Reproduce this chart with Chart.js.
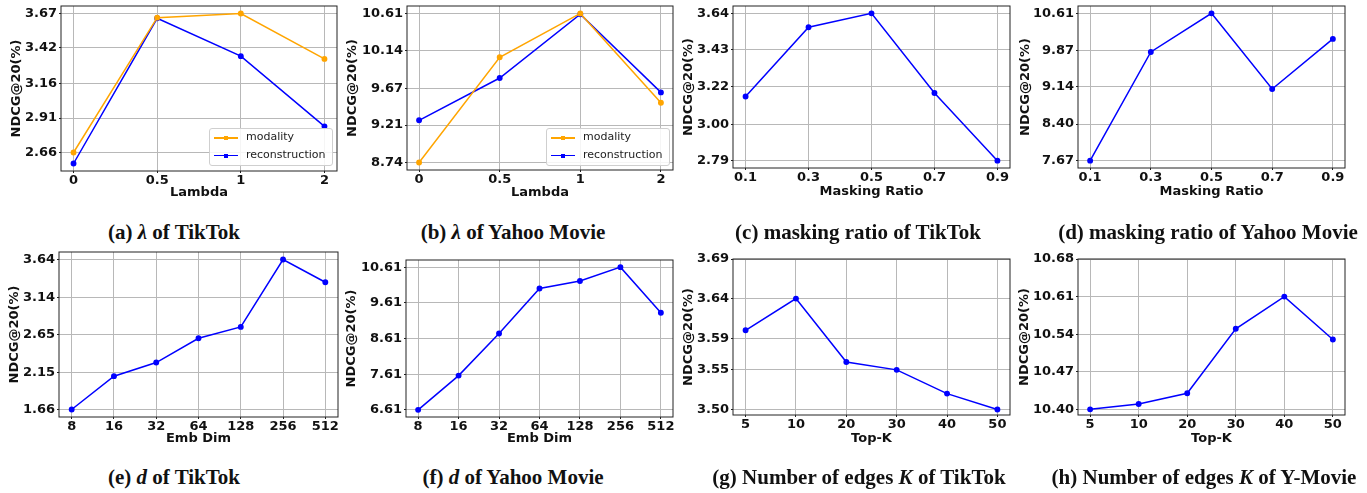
<!DOCTYPE html>
<html>
<head>
<meta charset="utf-8">
<script src="https://cdn.jsdelivr.net/npm/chart.js@4.4.0/dist/chart.umd.min.js"></script>
<style>
  html, body { margin: 0; padding: 0; background: #fff; }
  body { width: 1367px; height: 493px; position: relative; overflow: hidden; }
  .panel { position: absolute; }
  .cap {
    position: absolute; white-space: nowrap; transform: translate(-50%, -50%);
    font-family: 'Liberation Serif', serif; font-weight: bold; font-size: 21px; color: #111;
  }
  .legend {
    position: absolute; background: rgba(255,255,255,0.85); border: 1px solid #cfcfcf; border-radius: 3px;
    font-family: 'DejaVu Sans', sans-serif; font-size: 11px; color: #222;
  }
  .legend .row { position: absolute; left: 0; height: 14px; width: 100%; }
  .legend .ln { position: absolute; left: 4px; width: 24px; top: 6px; height: 1.5px; }
  .legend .mk { position: absolute; left: 14px; top: 5px; width: 4px; height: 4px; }
  .legend .tx { position: absolute; left: 36px; top: -1px; line-height: 14px; }
</style>
</head>
<body>
<script>
/* ---- categories (x axis) ---- */
const lambdaCats = ['0', '0.5', '1', '2'];
const maskCats   = ['0.1', '0.3', '0.5', '0.7', '0.9'];
const dimCats    = ['8', '16', '32', '64', '128', '256', '512'];
const topkCats   = ['5', '10', '20', '30', '40', '50'];

const seriesNames = ['modality', 'reconstruction'];

/* ---- NDCG@20 (%) values ---- */
const tiktokLambdaModality = [2.66, 3.64, 3.67, 3.34];
const tiktokLambdaRecon    = [2.58, 3.635, 3.36, 2.85];
const yahooLambdaModality  = [8.74, 10.06, 10.61, 9.49];
const yahooLambdaRecon     = [9.27, 9.80, 10.60, 9.62];
const tiktokMask = [3.16, 3.56, 3.64, 3.18, 2.79];
const yahooMask  = [7.67, 9.84, 10.61, 9.10, 10.10];
const tiktokDim  = [1.66, 2.10, 2.28, 2.60, 2.75, 3.64, 3.34];
const yahooDim   = [6.61, 7.57, 8.75, 10.01, 10.22, 10.61, 9.33];
const tiktokTopK = [3.60, 3.64, 3.56, 3.55, 3.52, 3.50];
const yahooTopK  = [10.40, 10.41, 10.43, 10.55, 10.61, 10.53];

/* ---- y tick labels ---- */
const tiktokLambdaTicks = [2.66, 2.91, 3.16, 3.42, 3.67];
const yahooLambdaTicks  = [8.74, 9.21, 9.67, 10.14, 10.61];
const tiktokMaskTicks   = [2.79, 3.00, 3.22, 3.43, 3.64];
const yahooMaskTicks    = [7.67, 8.40, 9.14, 9.87, 10.61];
const tiktokDimTicks    = [1.66, 2.15, 2.65, 3.14, 3.64];
const yahooDimTicks     = [6.61, 7.61, 8.61, 9.61, 10.61];
const tiktokTopKTicks   = [3.50, 3.55, 3.59, 3.64, 3.69];
const yahooTopKTicks    = [10.40, 10.47, 10.54, 10.61, 10.68];

const ORANGE = '#FFA500';
const BLUE = '#0000FF';
const GRID = '#b8b8b8';
const tickFont = { family: 'DejaVu Sans', size: 13, weight: 'bold', lineHeight: 1.2 };
const titleFont = { family: 'DejaVu Sans', size: 13, weight: 'bold', lineHeight: 1.2 };

// layout of each subfigure: plot box [left, top, right, bottom] in page px
const panels = [
  { cats: lambdaCats, series: [tiktokLambdaModality, tiktokLambdaRecon], colors: [ORANGE, BLUE], ticks: tiktokLambdaTicks,
    xTitle: 'Lambda', box: [61, 6, 337, 171], yTitleX: 17, xTitleY: 192, legendBox: [209, 128, 331, 164],
    caption: '(a) <i>λ</i> of TikTok', capX: 174, capY: 232 },
  { cats: lambdaCats, series: [yahooLambdaModality, yahooLambdaRecon], colors: [ORANGE, BLUE], ticks: yahooLambdaTicks,
    xTitle: 'Lambda', box: [407, 6, 673, 170], yTitleX: 353, xTitleY: 192, legendBox: [546, 128, 668, 164],
    caption: '(b) <i>λ</i> of Yahoo Movie', capX: 513, capY: 232 },
  { cats: maskCats, series: [tiktokMask], colors: [BLUE], ticks: tiktokMaskTicks,
    xTitle: 'Masking Ratio', box: [733, 6, 1010, 168], yTitleX: 689, xTitleY: 191.5,
    caption: '(c) masking ratio of TikTok', capX: 858, capY: 232 },
  { cats: maskCats, series: [yahooMask], colors: [BLUE], ticks: yahooMaskTicks,
    xTitle: 'Masking Ratio', box: [1078, 6, 1345, 168], yTitleX: 1026, xTitleY: 191.5,
    caption: '(d) masking ratio of Yahoo Movie', capX: 1208, capY: 232 },
  { cats: dimCats, series: [tiktokDim], colors: [BLUE], ticks: tiktokDimTicks,
    xTitle: 'Emb Dim', box: [59, 252, 338, 417], yTitleX: 15, xTitleY: 438.5,
    caption: '(e) <i>d</i> of TikTok', capX: 174, capY: 477 },
  { cats: dimCats, series: [yahooDim], colors: [BLUE], ticks: yahooDimTicks,
    xTitle: 'Emb Dim', box: [406, 260, 673, 417], yTitleX: 352, xTitleY: 438.5,
    caption: '(f) <i>d</i> of Yahoo Movie', capX: 513, capY: 477 },
  { cats: topkCats, series: [tiktokTopK], colors: [BLUE], ticks: tiktokTopKTicks,
    xTitle: 'Top-K', box: [733, 259, 1010, 415], yTitleX: 689, xTitleY: 438,
    caption: '(g) Number of edges <i>K</i> of TikTok', capX: 859, capY: 477 },
  { cats: topkCats, series: [yahooTopK], colors: [BLUE], ticks: yahooTopKTicks,
    xTitle: 'Top-K', box: [1078, 259, 1345, 415], yTitleX: 1025, xTitleY: 438,
    caption: '(h) Number of edges <i>K</i> of Y-Movie', capX: 1204, capY: 477 },
];

// black frame round the plot area (matplotlib spines)
const framePlugin = {
  id: 'frame',
  afterDatasetsDraw(chart) {
    const { ctx, chartArea: a } = chart;
    ctx.save();
    ctx.strokeStyle = '#222';
    ctx.lineWidth = 1;
    ctx.strokeRect(a.left, a.top, a.right - a.left, a.bottom - a.top);
    ctx.restore();
  },
};

function makeChart(p) {
  const [L, T, R, B] = p.box;
  const padTop = 12, padRight = 10;
  const half = titleFont.size * titleFont.lineHeight / 2;
  const cLeft = Math.round(p.yTitleX - half);
  const cTop = T - padTop;
  const cRight = R + padRight;
  const cBottom = Math.round(p.xTitleY + half);

  const wrap = document.createElement('div');
  wrap.className = 'panel';
  wrap.style.left = cLeft + 'px';
  wrap.style.top = cTop + 'px';
  wrap.style.width = (cRight - cLeft) + 'px';
  wrap.style.height = (cBottom - cTop) + 'px';
  const canvas = document.createElement('canvas');
  wrap.appendChild(canvas);
  document.body.appendChild(wrap);

  const all = p.series.flat();
  const lo = Math.min(...all), hi = Math.max(...all);
  const m = (hi - lo) * 0.05;
  const yMin = lo - m;
  const yMax = Math.max(hi + m, p.ticks[p.ticks.length - 1]);
  const n = p.cats.length;

  const datasets = p.series.map((vals, k) => ({
    label: p.series.length > 1 ? seriesNames[k] : '',
    data: vals.map((v, i) => ({ x: i, y: v })),
    borderColor: p.colors[k],
    backgroundColor: p.colors[k],
    borderWidth: 1.5,
    pointRadius: 2.2,
    pointStyle: 'circle',
    tension: 0,
  }));

  new Chart(canvas, {
    type: 'line',
    data: { datasets },
    options: {
      responsive: true,
      maintainAspectRatio: false,
      animation: false,
      layout: { padding: { top: padTop, right: padRight, left: 0, bottom: 0 } },
      plugins: { legend: { display: false }, tooltip: { enabled: false } },
      scales: {
        x: {
          type: 'linear',
          min: -0.05 * (n - 1),
          max: (n - 1) * 1.05,
          afterBuildTicks: (s) => { s.ticks = p.cats.map((c, i) => ({ value: i })); },
          afterFit: (s) => { s.height = cBottom - B; },
          ticks: {
            autoSkip: false, maxRotation: 0, padding: 0, color: '#111', font: tickFont,
            callback: (v) => p.cats[Math.round(v)],
          },
          grid: { color: GRID, lineWidth: 1, tickColor: '#222', tickLength: 2 },
          border: { display: false },
          title: { display: true, text: p.xTitle, color: '#111', font: titleFont, padding: 0 },
        },
        y: {
          min: yMin,
          max: yMax,
          afterBuildTicks: (s) => { s.ticks = p.ticks.map((v) => ({ value: v })); },
          afterFit: (s) => { s.width = L - cLeft; },
          ticks: { padding: 2, color: '#111', font: tickFont, callback: (v) => v.toFixed(2) },
          grid: { color: GRID, lineWidth: 1, tickColor: '#222', tickLength: 2 },
          border: { display: false },
          title: { display: true, text: 'NDCG@20(%)', color: '#111', font: titleFont, padding: 0 },
        },
      },
    },
    plugins: [framePlugin],
  });

  if (p.legendBox) {
    const [lx, ly, rx, by] = p.legendBox;
    const lg = document.createElement('div');
    lg.className = 'legend';
    lg.style.left = lx + 'px';
    lg.style.top = ly + 'px';
    lg.style.width = (rx - lx) + 'px';
    lg.style.height = (by - ly) + 'px';
    p.series.forEach((_, k) => {
      const row = document.createElement('div');
      row.className = 'row';
      row.style.top = (2 + k * 17.5) + 'px';
      row.innerHTML = `<div class="ln" style="background:${p.colors[k]}"></div>` +
        `<div class="mk" style="background:${p.colors[k]}"></div>` +
        `<div class="tx">${seriesNames[k]}</div>`;
      lg.appendChild(row);
    });
    document.body.appendChild(lg);
  }

  const cap = document.createElement('div');
  cap.className = 'cap';
  cap.style.left = p.capX + 'px';
  cap.style.top = p.capY + 'px';
  cap.innerHTML = p.caption;
  document.body.appendChild(cap);
}

panels.forEach(makeChart);
</script>
</body>
</html>
